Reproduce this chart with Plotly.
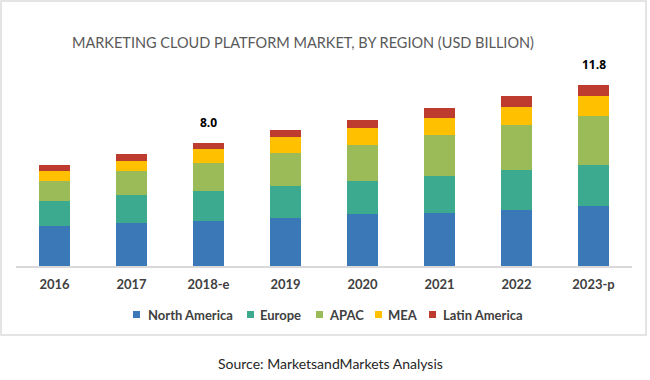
import plotly.graph_objects as go

years = ["2016", "2017", "2018-e", "2019", "2020", "2021", "2022", "2023-p"]
north_america = [2.60, 2.80, 2.95, 3.12, 3.36, 3.45, 3.66, 3.88]
europe = [1.63, 1.80, 1.91, 2.11, 2.17, 2.41, 2.56, 2.67]
apac = [1.30, 1.56, 1.87, 2.12, 2.36, 2.69, 2.97, 3.23]
mea = [0.65, 0.70, 0.91, 1.02, 1.09, 1.11, 1.17, 1.26]
latin_america = [0.37, 0.41, 0.39, 0.46, 0.54, 0.65, 0.70, 0.76]
labeled_years = ["2018-e", "2023-p"]

series = [
    ("North America", north_america, "#3A78B8"),
    ("Europe", europe, "#3BAA8F"),
    ("APAC", apac, "#9BBB59"),
    ("MEA", mea, "#FFC000"),
    ("Latin America", latin_america, "#BE3B30"),
]

W, H = 650, 380
ML, MR, MT, MB = 16, 18, 60, 114
PW = W - ML - MR
PH = H - MT - MB
PX_PER_UNIT = 15.37
YMAX = PH / PX_PER_UNIT


def px(x):
    return (x - ML) / PW


def py(y):
    return (H - MB - y) / PH


fig = go.Figure()
for name, vals, col in series:
    fig.add_trace(go.Bar(x=years, y=vals, name=name, marker=dict(color=col, line=dict(width=0)),
                         showlegend=False))

totals = [sum(v) for v in zip(*[s[1] for s in series])]
annotations = []
for yr, tot in zip(years, totals):
    if yr in labeled_years:
        annotations.append(dict(x=yr, y=tot, xref="x", yref="y", text=f"<b>{tot:.1f}</b>",
                                showarrow=False, yshift=20,
                                font=dict(family="Open Sans", size=12, color="#000000")))

# Title and source
annotations.append(dict(x=px(303), y=py(42), xref="paper", yref="paper",
                        text="MARKETING CLOUD PLATFORM MARKET, BY REGION (USD BILLION)",
                        showarrow=False, xanchor="center", yanchor="middle",
                        font=dict(family="Lato", size=14.5, color="#595959")))
annotations.append(dict(x=px(330), y=py(363), xref="paper", yref="paper",
                        text="Source: MarketsandMarkets Analysis",
                        showarrow=False, xanchor="center", yanchor="middle",
                        font=dict(family="Lato", size=14, color="#262626")))

# Manual legend
leg_sq = [133, 247, 316, 375, 429]
leg_tx = [146, 258, 327, 386, 441]
shapes = []
for (name, _, col), sx, tx in zip(series, leg_sq, leg_tx):
    shapes.append(dict(type="rect", xref="paper", yref="paper",
                       x0=px(sx), x1=px(sx + 7), y0=py(318), y1=py(311),
                       fillcolor=col, line=dict(width=0)))
    annotations.append(dict(x=px(tx), y=py(315), xref="paper", yref="paper",
                            text=f"<b>{name}</b>", showarrow=False,
                            xanchor="left", yanchor="middle",
                            font=dict(family="Lato", size=13, color="#404040")))

# Outer border
shapes.append(dict(type="rect", xref="paper", yref="paper",
                   x0=px(1), x1=px(646), y0=py(335), y1=py(1),
                   line=dict(color="#DCDCDC", width=1.5), fillcolor="rgba(0,0,0,0)", layer="below"))

fig.update_layout(
    width=W, height=H,
    margin=dict(l=ML, r=MR, t=MT, b=MB, pad=0),
    barmode="stack", bargap=0.6,
    plot_bgcolor="white", paper_bgcolor="white",
    showlegend=False,
    annotations=annotations, shapes=shapes,
    xaxis=dict(showline=True, linecolor="#D9D9D9", linewidth=1.5, ticks="",
               showgrid=False, zeroline=False, ticklabelstandoff=6,
               tickfont=dict(family="Lato", size=13, color="#404040", weight="bold")),
    yaxis=dict(range=[0, YMAX], visible=False, showgrid=False, zeroline=False),
)

fig.write_html("out.html", config={"displayModeBar": False},
               post_script="document.body.style.margin='0';document.body.style.overflow='hidden';")
